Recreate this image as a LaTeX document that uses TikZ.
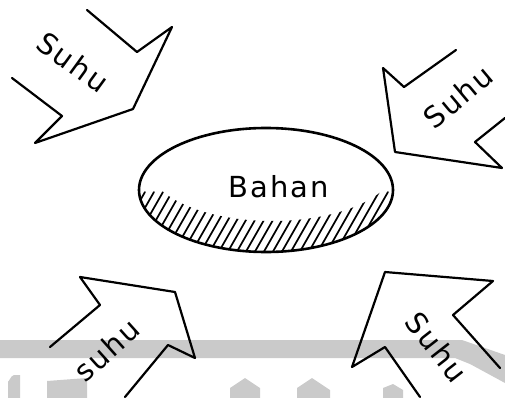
\documentclass[tikz,border=0pt]{standalone}
\usepackage{fontspec}
\setmainfont{DejaVu Sans}
\newfontfamily\labelfont[LetterSpace=7]{DejaVu Sans}
\definecolor{wmgray}{HTML}{CACACA}
\begin{document}
\begin{tikzpicture}[x=1pt,y=-1pt,
  pen/.style={draw=black,line width=2.2pt,line join=round,line cap=round},
  hatch/.style={draw=black,line width=1.7pt,line cap=round},
  lbl/.style={font=\labelfont\fontsize{29}{29}\selectfont,inner sep=0pt},
  wm/.style={fill=wmgray,draw=none}]
\useasboundingbox (0,0) rectangle (505,398);
% watermark
\fill[wm] (0,340) -- (462,340) -- (505,355) -- (505,383) -- (470,364) -- (455,358) -- (0,358) -- cycle;
\fill[wm] (8,398) -- (8,381) to[out=-90,in=180] (14,375) -- (20,375) -- (20,398) -- cycle;
\fill[wm] (47,398) -- (47,381) -- (87,378) -- (87,398) -- cycle;
\fill[wm] (230,398) -- (230,388) -- (245,378) -- (260,388) -- (260,398) -- cycle;
\fill[wm] (297,398) -- (297,388) -- (312,378) -- (330,390) -- (330,398) -- cycle;
\fill[wm] (383,398) -- (383,388) -- (393,384) -- (403,390) -- (403,398) -- cycle;
% material
\coordinate (bc) at (266,190);
\begin{scope}[even odd rule]
  \clip (bc) ellipse [x radius=127, y radius=62];
  \clip (bc) ellipse [x radius=127, y radius=62]
        (272,165) ellipse [x radius=124, y radius=56];
  \foreach \x in {96,105,...,420} \draw[hatch] (\x,262) -- ++(40,-70);
\end{scope}
\draw[pen,line width=2.6pt] (bc) ellipse [x radius=127, y radius=62];
\node[lbl] (bahan) at (279,187) {Bahan};
% arrows
\draw[pen] (87,10) -- (137,52) -- (172,27) -- (133,109) -- (35,143) -- (62,116) -- (12,78);
\draw[pen] (456,50) -- (404,87) -- (383,68) -- (395,152) -- (502,168) -- (475,142) -- (505,118);
\draw[pen] (50,347) -- (100,305) -- (80,277) -- (175,292) -- (195,358) -- (168,345) -- (125,397);
\draw[pen] (420,397) -- (385,347) -- (352,367) -- (385,272) -- (493,281) -- (453,315) -- (500,368);
\node[lbl,rotate=-36] (s1) at (73,62) {Suhu};
\node[lbl,rotate=40] (s2) at (458,97) {Suhu};
\node[lbl,rotate=42] (s3) at (107,350) {suhu};
\node[lbl,rotate=-52] (s4) at (437,347) {Suhu};
\end{tikzpicture}
\end{document}
